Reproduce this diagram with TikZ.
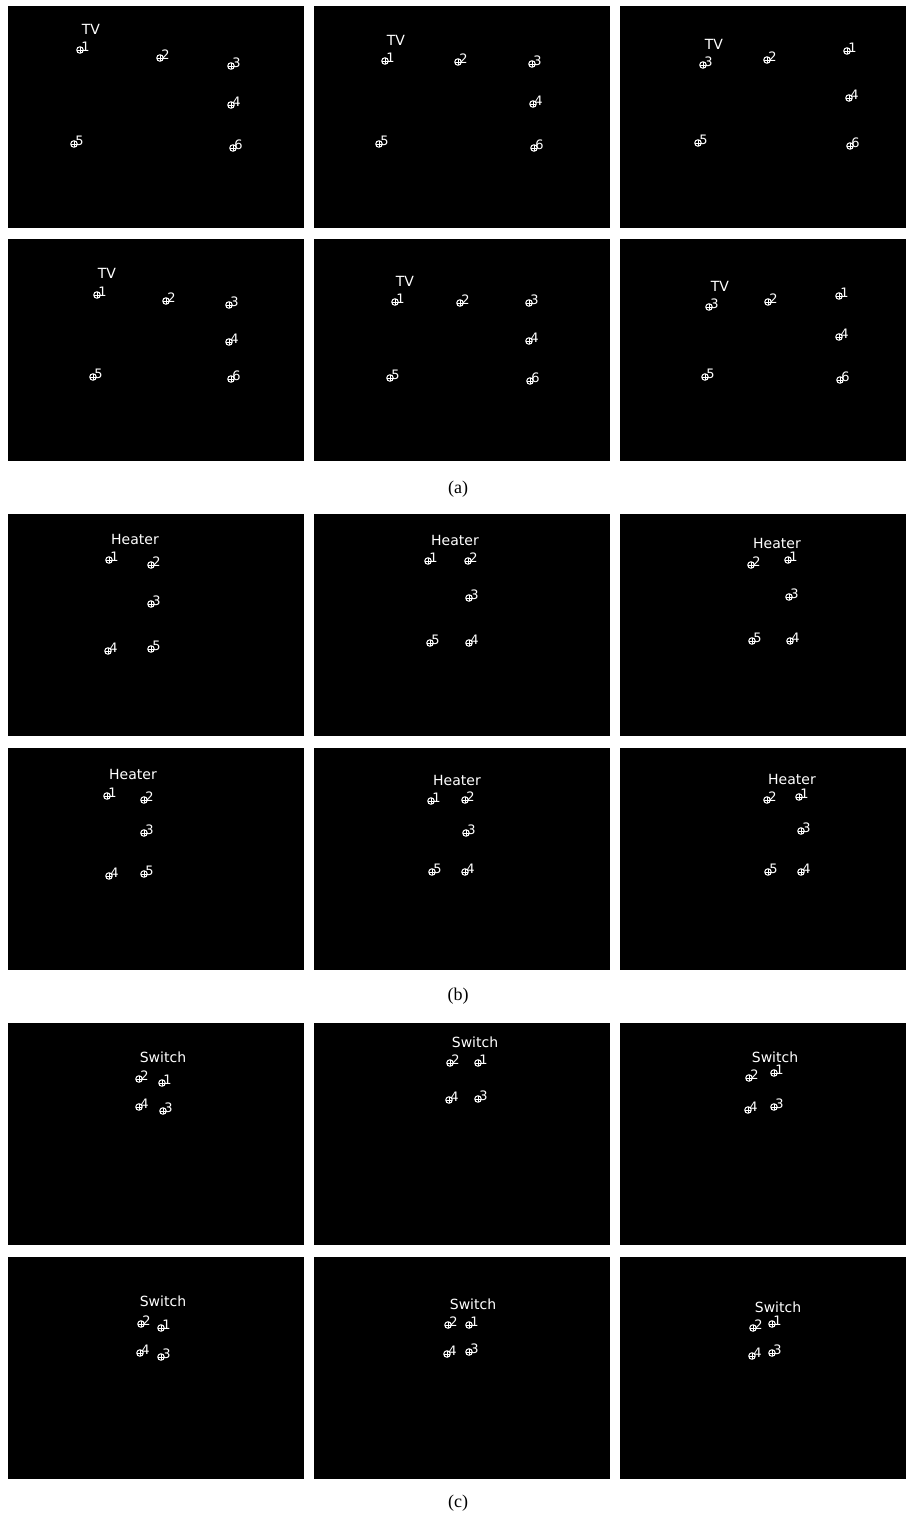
\documentclass[tikz,border=0pt]{standalone}
\usepackage{fontspec}
\newfontfamily\overlayfont{DejaVu Sans}
\newfontfamily\captionfont{Liberation Serif}
\usetikzlibrary{calc}

\begin{document}
\begin{tikzpicture}[
    x=1pt, y=-1pt,
    frame/.style={fill=black},
    marker/.style={circle, draw=white, line width=1pt, minimum size=6.5pt, inner sep=0pt,
      path picture={\draw[white, line width=0.8pt]
        (path picture bounding box.north) -- (path picture bounding box.south)
        (path picture bounding box.west) -- (path picture bounding box.east);}},
    num/.style={text=white, inner sep=0pt, font=\overlayfont\fontsize{13}{13}\selectfont},
    device/.style={text=white, inner sep=0pt, font=\overlayfont\fontsize{14}{14}\selectfont},
    caption/.style={inner sep=0pt, font=\captionfont\fontsize{18}{18}\selectfont}
  ]
  \fill[white] (0,0) rectangle (906,1520);
  \useasboundingbox (0,0) rectangle (906,1520);

  % panels
  \foreach \ya/\yb in {6/228, 239/461, 514/736, 748/970, 1023/1245, 1257/1479}
    \foreach \xa/\xb in {8/304, 314/610, 620/906}
      \fill[frame] (\xa,\ya) rectangle (\xb,\yb);

  % (a) TV
  \node[device] (tvA) at (91,29) {TV};
  \foreach \n/\x/\y in {1/80/50, 2/160/58, 3/231/66, 4/231/105, 5/74/144, 6/233/148}
    {\node[marker] (tvA\n) at (\x,\y) {};
     \node[num] at ([shift={(5.5,-3.5)}]tvA\n.center) {\n};}
  \node[device] (tvB) at (396,40) {TV};
  \foreach \n/\x/\y in {1/385/61, 2/458/62, 3/532/64, 4/533/104, 5/379/144, 6/534/148}
    {\node[marker] (tvB\n) at (\x,\y) {};
     \node[num] at ([shift={(5.5,-3.5)}]tvB\n.center) {\n};}
  \node[device] (tvC) at (714,44) {TV};
  \foreach \n/\x/\y in {1/847/51, 2/767/60, 3/703/65, 4/849/98, 5/698/143, 6/850/146}
    {\node[marker] (tvC\n) at (\x,\y) {};
     \node[num] at ([shift={(5.5,-3.5)}]tvC\n.center) {\n};}
  \node[device] (tvD) at (107,273) {TV};
  \foreach \n/\x/\y in {1/97/295, 2/166/301, 3/229/305, 4/229/342, 5/93/377, 6/231/379}
    {\node[marker] (tvD\n) at (\x,\y) {};
     \node[num] at ([shift={(5.5,-3.5)}]tvD\n.center) {\n};}
  \node[device] (tvE) at (405,281) {TV};
  \foreach \n/\x/\y in {1/395/302, 2/460/303, 3/529/303, 4/529/341, 5/390/378, 6/530/381}
    {\node[marker] (tvE\n) at (\x,\y) {};
     \node[num] at ([shift={(5.5,-3.5)}]tvE\n.center) {\n};}
  \node[device] (tvF) at (720,286) {TV};
  \foreach \n/\x/\y in {1/839/296, 2/768/302, 3/709/307, 4/839/337, 5/705/377, 6/840/380}
    {\node[marker] (tvF\n) at (\x,\y) {};
     \node[num] at ([shift={(5.5,-3.5)}]tvF\n.center) {\n};}
  \node[caption] (capA) at (458,489) {(a)};

  % (b) Heater
  \node[device] (htA) at (135,539) {Heater};
  \foreach \n/\x/\y in {1/109/560, 2/151/565, 3/151/604, 4/108/651, 5/151/649}
    {\node[marker] (htA\n) at (\x,\y) {};
     \node[num] at ([shift={(5.5,-3.5)}]htA\n.center) {\n};}
  \node[device] (htB) at (455,540) {Heater};
  \foreach \n/\x/\y in {1/428/561, 2/468/561, 3/469/598, 4/469/643, 5/430/643}
    {\node[marker] (htB\n) at (\x,\y) {};
     \node[num] at ([shift={(5.5,-3.5)}]htB\n.center) {\n};}
  \node[device] (htC) at (777,543) {Heater};
  \foreach \n/\x/\y in {1/788/560, 2/751/565, 3/789/597, 4/790/641, 5/752/641}
    {\node[marker] (htC\n) at (\x,\y) {};
     \node[num] at ([shift={(5.5,-3.5)}]htC\n.center) {\n};}
  \node[device] (htD) at (133,774) {Heater};
  \foreach \n/\x/\y in {1/107/796, 2/144/800, 3/144/833, 4/109/876, 5/144/874}
    {\node[marker] (htD\n) at (\x,\y) {};
     \node[num] at ([shift={(5.5,-3.5)}]htD\n.center) {\n};}
  \node[device] (htE) at (457,780) {Heater};
  \foreach \n/\x/\y in {1/431/801, 2/465/800, 3/466/833, 4/465/872, 5/432/872}
    {\node[marker] (htE\n) at (\x,\y) {};
     \node[num] at ([shift={(5.5,-3.5)}]htE\n.center) {\n};}
  \node[device] (htF) at (792,779) {Heater};
  \foreach \n/\x/\y in {1/799/797, 2/767/800, 3/801/831, 4/801/872, 5/768/872}
    {\node[marker] (htF\n) at (\x,\y) {};
     \node[num] at ([shift={(5.5,-3.5)}]htF\n.center) {\n};}
  \node[caption] (capB) at (458,996) {(b)};

  % (c) Switch
  \node[device] (swA) at (163,1057) {Switch};
  \foreach \n/\x/\y in {1/162/1083, 2/139/1079, 3/163/1111, 4/139/1107}
    {\node[marker] (swA\n) at (\x,\y) {};
     \node[num] at ([shift={(5.5,-3.5)}]swA\n.center) {\n};}
  \node[device] (swB) at (475,1042) {Switch};
  \foreach \n/\x/\y in {1/478/1063, 2/450/1063, 3/478/1099, 4/449/1100}
    {\node[marker] (swB\n) at (\x,\y) {};
     \node[num] at ([shift={(5.5,-3.5)}]swB\n.center) {\n};}
  \node[device] (swC) at (775,1057) {Switch};
  \foreach \n/\x/\y in {1/774/1073, 2/749/1078, 3/774/1107, 4/748/1110}
    {\node[marker] (swC\n) at (\x,\y) {};
     \node[num] at ([shift={(5.5,-3.5)}]swC\n.center) {\n};}
  \node[device] (swD) at (163,1301) {Switch};
  \foreach \n/\x/\y in {1/161/1328, 2/141/1324, 3/161/1357, 4/140/1353}
    {\node[marker] (swD\n) at (\x,\y) {};
     \node[num] at ([shift={(5.5,-3.5)}]swD\n.center) {\n};}
  \node[device] (swE) at (473,1304) {Switch};
  \foreach \n/\x/\y in {1/469/1325, 2/448/1325, 3/469/1352, 4/447/1354}
    {\node[marker] (swE\n) at (\x,\y) {};
     \node[num] at ([shift={(5.5,-3.5)}]swE\n.center) {\n};}
  \node[device] (swF) at (778,1307) {Switch};
  \foreach \n/\x/\y in {1/772/1324, 2/753/1328, 3/772/1353, 4/752/1356}
    {\node[marker] (swF\n) at (\x,\y) {};
     \node[num] at ([shift={(5.5,-3.5)}]swF\n.center) {\n};}
  \node[caption] (capC) at (458,1503) {(c)};
\end{tikzpicture}
\end{document}
